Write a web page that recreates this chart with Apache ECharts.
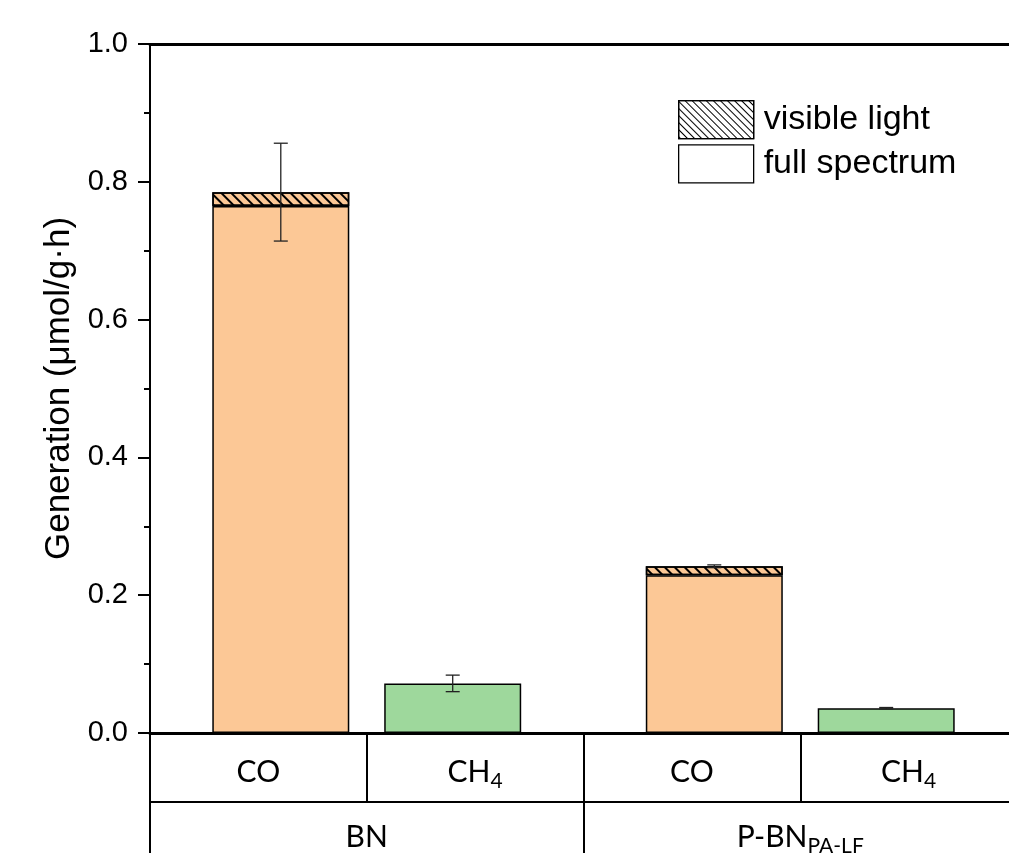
<!DOCTYPE html>
<html><head><meta charset="utf-8">
<script src="https://cdn.jsdelivr.net/npm/echarts@6/dist/echarts.min.js"></script>
<style>html,body{margin:0;padding:0;background:#fff}#c{width:1009px;height:853px}</style>
</head><body><div id="c"></div>
<script>
// ---- data ----
const groups = ['BN', 'P-BN'];
const groupLabels = ['{m|BN}', '{m|P-BN}{s|PA-LF}'];
const gasLabels = ['{m|CO}', '{m|CH}{s|4}', '{m|CO}', '{m|CH}{s|4}'];
const coFull = [0.765, 0.229];
const coVisible = [0.020, 0.013];
const coErr = [0.071, 0.002];
const ch4 = [0.072, 0.036];
const ch4Err = [0.012, 0.001];
const yMin = 0, yMax = 1.0, yStep = 0.2;

// ---- style ----
const ORANGE = '#FCC896';
const GREEN = '#9ED89C';
const BAR_FRAC = 0.316;
const GAP_FRAC = 0.255;
const hatch = {symbol: 'rect', symbolSize: 1, dashArrayX: [1, 0], dashArrayY: [2, 5], rotation: Math.PI / 4, color: '#000'};
const hatchLegend = {symbol: 'rect', symbolSize: 1, dashArrayX: [1, 0], dashArrayY: [1, 3.2], rotation: Math.PI / 4, color: '#000'};

const errData = [];
for (let i = 0; i < groups.length; i++) {
  errData.push([i, coFull[i] + coVisible[i], coErr[i], -1]);
  errData.push([i, ch4[i], ch4Err[i], 1]);
}

function renderErr(params, api) {
  const cat = api.value(0), v = api.value(1), e = api.value(2), side = api.value(3);
  const cw = api.size([1, 0])[0];
  const c = api.coord([cat, v]);
  const x = c[0] + side * cw * BAR_FRAC * (1 + GAP_FRAC) / 2;
  const yt = api.coord([cat, v + e])[1];
  const yb = api.coord([cat, v - e])[1];
  const h = 7;
  const st = {stroke: '#222', lineWidth: 1.3};
  return {type: 'group', children: [
    {type: 'line', shape: {x1: x, y1: yt, x2: x, y2: yb}, style: st},
    {type: 'line', shape: {x1: x - h, y1: yt, x2: x + h, y2: yt}, style: st},
    {type: 'line', shape: {x1: x - h, y1: yb, x2: x + h, y2: yb}, style: st}
  ]};
}

const richLbl = {
  m: {fontSize: 30, fontFamily: 'Lato', lineHeight: 34, verticalAlign: 'top', color: '#000'},
  s: {fontSize: 21, fontFamily: 'Lato', lineHeight: 35, verticalAlign: 'bottom', color: '#000'}
};

const chart = echarts.init(document.getElementById('c'), null, {renderer: 'canvas'});
chart.setOption({
  animation: false,
  backgroundColor: '#fff',
  grid: {left: 150, top: 44, right: -8, bottom: 120, containLabel: false, outerBoundsMode: 'none'},
  legend: {
    orient: 'vertical', left: 678, top: 100, padding: 0,
    itemWidth: 75, itemHeight: 38, itemGap: 5, selectedMode: false,
    icon: 'rect',
    textStyle: {fontSize: 34, fontFamily: 'Liberation Sans', color: '#000', padding: [0, 0, 0, 5]},
    data: [
      {name: 'visible light', itemStyle: {color: '#fff', borderColor: '#000', borderWidth: 1.3, decal: hatchLegend}},
      {name: 'full spectrum', itemStyle: {color: '#fff', borderColor: '#000', borderWidth: 1.3}}
    ]
  },
  xAxis: [
    {type: 'category', data: groups, position: 'bottom', show: false},
    {type: 'category', data: gasLabels, position: 'bottom', offset: 0,
      axisLine: {lineStyle: {color: '#000', width: 3}},
      axisTick: {show: true, interval: 0, length: 69, lineStyle: {color: '#000', width: 2}},
      axisLabel: {interval: 0, margin: 24, rich: richLbl, formatter: v => v}},
    {type: 'category', data: groupLabels, position: 'bottom', offset: 69,
      axisLine: {lineStyle: {color: '#000', width: 2}},
      axisTick: {show: true, interval: 0, length: 60, lineStyle: {color: '#000', width: 2}},
      axisLabel: {interval: 0, margin: 20, rich: richLbl, formatter: v => v}},
    {type: 'category', data: groups, position: 'top',
      axisLine: {lineStyle: {color: '#000', width: 3}},
      axisTick: {show: false}, axisLabel: {show: false}}
  ],
  yAxis: {
    type: 'value', min: yMin, max: yMax, interval: yStep,
    name: 'Generation (μmol/g·h)', nameLocation: 'middle', nameGap: 72,
    nameTextStyle: {fontSize: 35, fontFamily: 'Liberation Sans', color: '#000'},
    axisLine: {show: true, lineStyle: {color: '#000', width: 2}},
    axisTick: {show: true, length: 12, lineStyle: {color: '#000', width: 2}},
    minorTick: {show: true, splitNumber: 2, length: 6, lineStyle: {color: '#000', width: 2}},
    splitLine: {show: false},
    axisLabel: {fontSize: 29, fontFamily: 'Liberation Sans', color: '#000', margin: 22, formatter: v => v.toFixed(1)}
  },
  series: [
    {name: 'full spectrum', type: 'bar', xAxisIndex: 0, stack: 'co', data: coFull,
      barWidth: (BAR_FRAC * 100) + '%', barGap: (GAP_FRAC * 100) + '%',
      itemStyle: {color: ORANGE, borderColor: '#000', borderWidth: 1.5}},
    {name: 'visible light', type: 'bar', xAxisIndex: 0, stack: 'co', data: coVisible,
      barWidth: (BAR_FRAC * 100) + '%', barGap: (GAP_FRAC * 100) + '%',
      itemStyle: {color: ORANGE, borderColor: '#000', borderWidth: 1.5, decal: hatch}},
    {name: 'CH4', type: 'bar', xAxisIndex: 0, stack: 'ch4', data: ch4,
      barWidth: (BAR_FRAC * 100) + '%', barGap: (GAP_FRAC * 100) + '%',
      itemStyle: {color: GREEN, borderColor: '#000', borderWidth: 1.5}},
    {name: 'err', type: 'custom', xAxisIndex: 0, data: errData, renderItem: renderErr, z: 10,
      encode: {x: 0, y: 1}}
  ]
});
</script></body></html>
